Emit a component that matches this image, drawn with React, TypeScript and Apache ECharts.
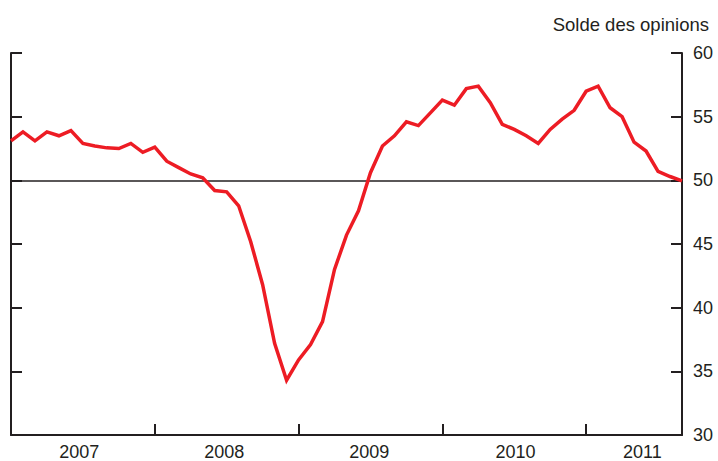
import React, { useEffect, useRef } from "react";
import * as echarts from "echarts";

// Monthly values, Jan 2007 .. Sep 2011
const values: number[] = [
  53.1, 53.8, 53.1, 53.8, 53.5, 53.9, 52.9, 52.7, 52.55, 52.5, 52.9, 52.2,
  52.6, 51.5, 51.0, 50.5, 50.2, 49.2, 49.1, 48.0, 45.2, 41.8, 37.2, 34.3,
  35.9, 37.1, 38.9, 43.0, 45.7, 47.6, 50.6, 52.7, 53.5, 54.6, 54.3, 55.3,
  56.3, 55.9, 57.2, 57.4, 56.1, 54.4, 54.0, 53.5, 52.9, 54.0, 54.8, 55.5,
  57.0, 57.4, 55.7, 55.0, 53.0, 52.3, 50.7, 50.3, 49.95,
];
const years: string[] = ["2007", "2008", "2009", "2010", "2011"];
const yearLabelMonths: number[] = [5.7, 17.8, 29.9, 42.1, 52.7];
const yearTickMonths: number[] = [12, 24, 36, 48];
const yTicks = { min: 30, max: 60, interval: 5 };
const referenceLevel = 50;
const titleText = "Solde des opinions";

const ink = "#231f20";
const font = "'Liberation Sans', Arial, sans-serif";

export default function App() {
  const ref = useRef<HTMLDivElement>(null);
  useEffect(() => {
    if (!ref.current) return;
    const chart = echarts.init(ref.current, undefined, { renderer: "svg" });
    const yBase = {
      type: "value" as const,
      min: yTicks.min,
      max: yTicks.max,
      interval: yTicks.interval,
      splitLine: { show: false },
      axisLine: { show: true, lineStyle: { color: ink, width: 2 } },
      axisTick: { show: true, inside: true, length: 11, lineStyle: { color: ink, width: 2 } },
    };
    chart.setOption({
      animation: false,
      title: {
        text: titleText,
        right: 4,
        top: 10,
        textStyle: { fontFamily: font, fontSize: 18.5, fontWeight: "normal", color: ink },
      },
      grid: { left: 11, right: 36, top: 53, bottom: 24, containLabel: false },
      xAxis: {
        type: "value",
        min: 0,
        max: values.length - 1,
        splitLine: { show: false },
        axisLine: { show: true, onZero: false, lineStyle: { color: ink, width: 2 } },
        axisTick: {
          show: true,
          inside: true,
          length: 11,
          customValues: yearTickMonths,
          lineStyle: { color: ink, width: 2 },
        },
        axisLabel: {
          show: true,
          customValues: yearLabelMonths,
          formatter: (v: number) => {
            const i = yearLabelMonths.findIndex((m) => Math.abs(m - v) < 0.01);
            return i >= 0 ? years[i] : "";
          },
          margin: 8,
          fontFamily: font,
          fontSize: 18,
          color: ink,
        },
      },
      yAxis: [
        { ...yBase, position: "left", axisLabel: { show: false } },
        {
          ...yBase,
          position: "right",
          axisLabel: { show: true, margin: 11, fontFamily: font, fontSize: 18, color: ink },
        },
      ],
      series: [
        {
          type: "line",
          yAxisIndex: 1,
          data: values.map((v, i) => [i, v]),
          showSymbol: false,
          symbol: "none",
          lineStyle: { color: "#ed1c24", width: 3.5, join: "miter" },
          z: 3,
          markLine: {
            silent: true,
            symbol: "none",
            label: { show: false },
            lineStyle: { color: ink, width: 1.5, type: "solid" },
            data: [{ yAxis: referenceLevel }],
            z: 2,
          },
        },
      ],
    });
    return () => chart.dispose();
  }, []);
  return (
    <div
      ref={ref}
      style={{ position: "fixed", left: 0, top: 0, width: 718, height: 461, background: "#fff" }}
    />
  );
}
